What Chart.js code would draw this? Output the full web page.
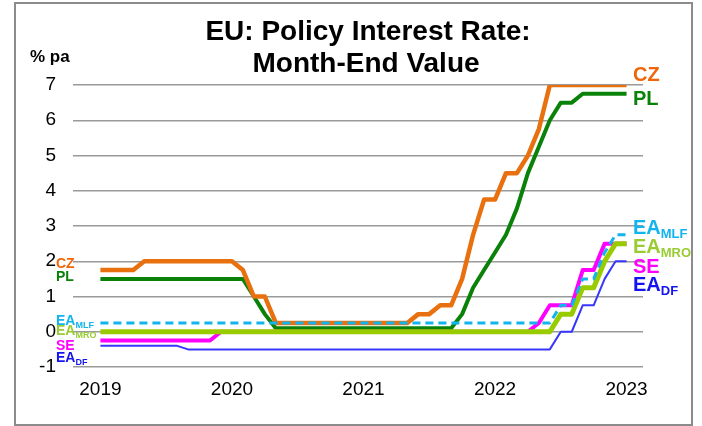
<!DOCTYPE html>
<html>
<head>
<meta charset="utf-8">
<script src="https://cdn.jsdelivr.net/npm/chart.js@4"></script>
<style>
  body { margin: 0; background: #fff; }
  #wrap { width: 702px; height: 426px; }
</style>
</head>
<body>
<div id="wrap"><canvas id="chart" width="702" height="426"></canvas></div>
<script>
// month-end values, Jan 2019 .. Jan 2023
const years = ['2019', '2020', '2021', '2022', '2023'];
const yTicks = [-1, 0, 1, 2, 3, 4, 5, 6, 7];

const cz = [1.75, 1.75, 1.75, 1.75, 2, 2, 2, 2, 2, 2, 2, 2,
            2, 1.75, 1, 1, 0.25, 0.25, 0.25, 0.25, 0.25, 0.25, 0.25, 0.25,
            0.25, 0.25, 0.25, 0.25, 0.25, 0.5, 0.5, 0.75, 0.75, 1.5, 2.75, 3.75,
            3.75, 4.5, 4.5, 5, 5.75, 7, 7, 7, 7, 7, 7, 7,
            7];
const pl = [1.5, 1.5, 1.5, 1.5, 1.5, 1.5, 1.5, 1.5, 1.5, 1.5, 1.5, 1.5,
            1.5, 1.5, 1, 0.5, 0.1, 0.1, 0.1, 0.1, 0.1, 0.1, 0.1, 0.1,
            0.1, 0.1, 0.1, 0.1, 0.1, 0.1, 0.1, 0.1, 0.1, 0.5, 1.25, 1.75,
            2.25, 2.75, 3.5, 4.5, 5.25, 6, 6.5, 6.5, 6.75, 6.75, 6.75, 6.75,
            6.75];
const eaMlf = [0.25, 0.25, 0.25, 0.25, 0.25, 0.25, 0.25, 0.25, 0.25, 0.25, 0.25, 0.25,
               0.25, 0.25, 0.25, 0.25, 0.25, 0.25, 0.25, 0.25, 0.25, 0.25, 0.25, 0.25,
               0.25, 0.25, 0.25, 0.25, 0.25, 0.25, 0.25, 0.25, 0.25, 0.25, 0.25, 0.25,
               0.25, 0.25, 0.25, 0.25, 0.25, 0.25, 0.75, 0.75, 1.5, 1.5, 2.25, 2.75,
               2.75];
const eaMro = [0, 0, 0, 0, 0, 0, 0, 0, 0, 0, 0, 0,
               0, 0, 0, 0, 0, 0, 0, 0, 0, 0, 0, 0,
               0, 0, 0, 0, 0, 0, 0, 0, 0, 0, 0, 0,
               0, 0, 0, 0, 0, 0, 0.5, 0.5, 1.25, 1.25, 2, 2.5,
               2.5];
const se = [-0.25, -0.25, -0.25, -0.25, -0.25, -0.25, -0.25, -0.25, -0.25, -0.25, -0.25, 0,
            0, 0, 0, 0, 0, 0, 0, 0, 0, 0, 0, 0,
            0, 0, 0, 0, 0, 0, 0, 0, 0, 0, 0, 0,
            0, 0, 0, 0, 0.25, 0.75, 0.75, 0.75, 1.75, 1.75, 2.5, 2.5,
            2.5];
const eaDf = [-0.4, -0.4, -0.4, -0.4, -0.4, -0.4, -0.4, -0.4, -0.5, -0.5, -0.5, -0.5,
              -0.5, -0.5, -0.5, -0.5, -0.5, -0.5, -0.5, -0.5, -0.5, -0.5, -0.5, -0.5,
              -0.5, -0.5, -0.5, -0.5, -0.5, -0.5, -0.5, -0.5, -0.5, -0.5, -0.5, -0.5,
              -0.5, -0.5, -0.5, -0.5, -0.5, -0.5, 0, 0, 0.75, 0.75, 1.5, 2,
              2];

const FONT = "'Liberation Sans', Arial, sans-serif";

function pts(arr) {
    return arr.map((v, i) => ({ x: i, y: v }));
}

// series name labels: main text, subscript, colour, and where they sit (y in % pa)
const seriesLabels = [
    { main: 'CZ', sub: '', color: '#F0650A', leftY: 1.92, rightY: 7.26 },
    { main: 'PL', sub: '', color: '#0A820A', leftY: 1.55, rightY: 6.6 },
    { main: 'EA', sub: 'MLF', color: '#12B4EE', leftY: 0.3, rightY: 2.93 },
    { main: 'EA', sub: 'MRO', color: '#99CC33', leftY: 0.02, rightY: 2.39 },
    { main: 'SE', sub: '', color: '#FF00FF', leftY: -0.4, rightY: 1.82 },
    { main: 'EA', sub: 'DF', color: '#1414F0', leftY: -0.76, rightY: 1.31 }
];

function drawLabel(ctx, lab, x, y, size, subSize) {
    ctx.fillStyle = lab.color;
    ctx.textBaseline = 'middle';
    ctx.textAlign = 'left';
    ctx.font = 'bold ' + size + 'px ' + FONT;
    ctx.fillText(lab.main, x, y);
    if (lab.sub) {
        const w = ctx.measureText(lab.main).width;
        ctx.font = 'bold ' + subSize + 'px ' + FONT;
        ctx.fillText(lab.sub, x + w, y + size * 0.3);
    }
}

const decorations = {
    id: 'decorations',
    beforeDraw(chart) {
        const ctx = chart.ctx;
        ctx.save();
        ctx.fillStyle = '#fff';
        ctx.fillRect(0, 0, chart.width, chart.height);
        ctx.restore();
    },
    afterDraw(chart) {
        const ctx = chart.ctx;
        const ys = chart.scales.y;
        ctx.save();
        // frame
        ctx.strokeStyle = '#8c8c8c';
        ctx.lineWidth = 2;
        ctx.strokeRect(15, 3, 677, 422);
        // title
        ctx.fillStyle = '#000';
        ctx.textAlign = 'center';
        ctx.textBaseline = 'middle';
        ctx.font = 'bold 28px ' + FONT;
        ctx.fillText('EU: Policy Interest Rate:', 368, 32);
        ctx.fillText('Month-End Value', 366, 64);
        // unit
        ctx.textAlign = 'left';
        ctx.font = 'bold 17px ' + FONT;
        ctx.fillText('% pa', 30, 57);
        // series labels
        seriesLabels.forEach(lab => {
            drawLabel(ctx, lab, 56, ys.getPixelForValue(lab.leftY), 14, 9);
            drawLabel(ctx, lab, 633, ys.getPixelForValue(lab.rightY), 20, 13);
        });
        ctx.restore();
    }
};

new Chart(document.getElementById('chart'), {
    type: 'line',
    data: {
        datasets: [
            { label: 'PL', data: pts(pl), borderColor: '#0A820A', borderWidth: 4, order: 6 },
            { label: 'CZ', data: pts(cz), borderColor: '#E8700F', borderWidth: 4.5, order: 5 },
            { label: 'EA DF', data: pts(eaDf), borderColor: '#3636FF', borderWidth: 2, order: 4 },
            { label: 'SE', data: pts(se), borderColor: '#FF00FF', borderWidth: 4, order: 3 },
            { label: 'EA MRO', data: pts(eaMro), borderColor: '#99CC00', borderWidth: 5, order: 2 },
            { label: 'EA MLF', data: pts(eaMlf), borderColor: '#12B4EE', borderWidth: 3, borderDash: [8, 5], order: 1 }
        ]
    },
    options: {
        responsive: false,
        animation: false,
        devicePixelRatio: 1,
        layout: { padding: { top: 85, right: 59, bottom: 0, left: 0 } },
        elements: {
            point: { radius: 0 },
            line: { tension: 0, fill: false, borderCapStyle: 'butt', borderJoinStyle: 'round' }
        },
        plugins: {
            legend: { display: false },
            tooltip: { enabled: false },
            title: { display: false }
        },
        scales: {
            x: {
                type: 'linear',
                min: -2.5,
                max: 49.5,
                afterBuildTicks(scale) {
                    scale.ticks = years.map((y, i) => ({ value: i * 12 }));
                },
                afterFit(scale) { scale.height = 59; },
                grid: { display: false },
                border: { display: false },
                ticks: {
                    padding: 3,
                    color: '#000',
                    font: { family: FONT, size: 19 },
                    maxRotation: 0,
                    autoSkip: false,
                    callback: (v) => years[Math.round(v / 12)]
                }
            },
            y: {
                min: -1,
                max: 7,
                afterBuildTicks(scale) {
                    scale.ticks = yTicks.map(v => ({ value: v }));
                },
                afterFit(scale) { scale.width = 73; },
                grid: { color: '#9a9a9a', lineWidth: 1.5, drawTicks: false },
                border: { display: false },
                ticks: {
                    padding: 17,
                    color: '#000',
                    font: { family: FONT, size: 19 }
                }
            }
        }
    },
    plugins: [decorations]
});
</script>
</body>
</html>
